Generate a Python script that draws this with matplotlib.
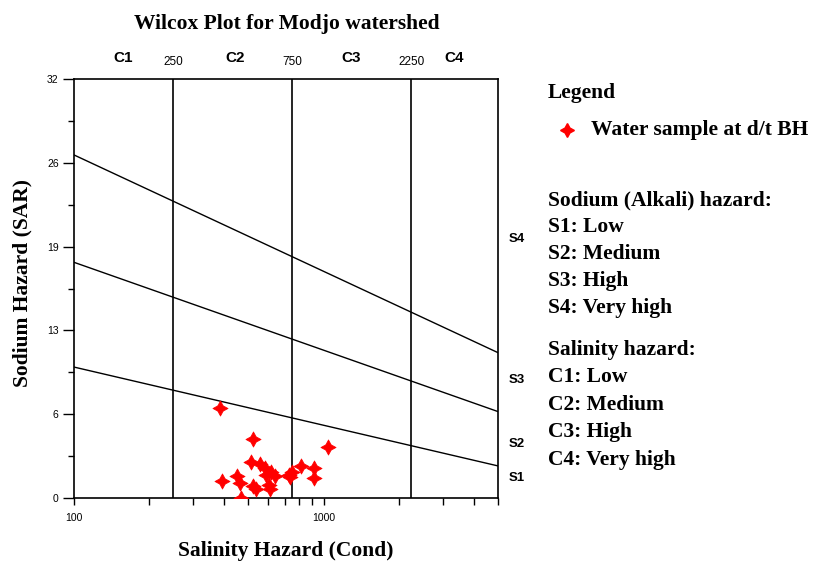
import matplotlib.pyplot as plt
from matplotlib.ticker import FixedLocator, NullFormatter

cond = [384, 521, 1040, 510, 555, 581, 618, 637, 727, 750, 814, 915, 915,
        392, 452, 461, 521, 538, 604, 608, 469, 590, 731]
sar = [6.85, 4.48, 3.87, 2.77, 2.60, 2.27, 1.96, 1.68, 1.76, 1.96, 2.44, 2.31, 1.55,
       1.30, 1.68, 1.12, 0.92, 0.66, 0.99, 0.66, 0.02, 1.76, 1.63]

# class boundaries
c_bounds = [250, 750, 2250]
c_names = ['C1', 'C2', 'C3', 'C4']
c_name_x = [158, 441, 1295, 3340]
s_lines = [(10.0, 2.45), (18.0, 6.6), (26.2, 11.1)]  # SAR at EC=100 and EC=5000
s_names = ['S1', 'S2', 'S3', 'S4']
s_name_y = [1.5, 4.1, 9.0, 19.8]

y_ticks = [0, 6.4, 12.8, 19.2, 25.6, 32]
y_labels = ['0', '6', '13', '19', '26', '32']

legend_lines = ['Sodium (Alkali) hazard:', 'S1: Low', 'S2: Medium', 'S3: High', 'S4: Very high']
legend_lines2 = ['Salinity hazard:', 'C1: Low', 'C2: Medium', 'C3: High', 'C4: Very high']

serif = 'Liberation Serif'
sans = 'Liberation Sans'
big = 15.5

fig = plt.figure(figsize=(8.14, 5.63), dpi=100)
ax = fig.add_axes([74/814, 1-498/563, 424/814, 419/563])
ax.set_xscale('log')
ax.set_xlim(100, 5000)
ax.set_ylim(0, 32)

for c in c_bounds:
    ax.plot([c, c], [0, 32], color='black', lw=1.2)
for s0, s1 in s_lines:
    ax.plot([100, 5000], [s0, s1], color='black', lw=1.0)

ax.scatter(cond, sar, marker=(4, 1, 0), s=120, color='red', zorder=5, linewidths=0.5, edgecolors='red')

ax.yaxis.set_major_locator(FixedLocator(y_ticks))
ax.set_yticklabels(y_labels, fontfamily=sans, fontsize=7.5)
ax.yaxis.set_minor_locator(FixedLocator([3.2, 9.6, 16, 22.4, 28.8]))
ax.xaxis.set_major_locator(FixedLocator([100, 1000]))
ax.set_xticklabels(['100', '1000'], fontfamily=sans, fontsize=7.5)
ax.xaxis.set_minor_locator(FixedLocator([200, 300, 400, 500, 600, 700, 800, 900,
                                         2000, 3000, 4000, 5000]))
ax.xaxis.set_minor_formatter(NullFormatter())
ax.tick_params(axis='y', which='major', length=8, width=1, pad=3)
ax.tick_params(axis='y', which='minor', length=4, width=1)
ax.tick_params(axis='x', which='both', length=5, width=1, pad=6)
for sp in ax.spines.values():
    sp.set_linewidth(1.2)

fig.text(287/814, 1-24/563, 'Wilcox Plot for Modjo watershed', fontfamily=serif, fontweight='bold',
         fontsize=big, ha='center', va='center')
fig.text(286/814, 1-551/563, 'Salinity Hazard (Cond)', fontfamily=serif, fontweight='bold',
         fontsize=big, ha='center', va='center')
fig.text(22/814, 1-283/563, 'Sodium Hazard (SAR)', fontfamily=serif, fontweight='bold',
         fontsize=big, ha='center', va='center', rotation=90)

for name, x in zip(c_names, c_name_x):
    ax.text(x, 1.0513, name, transform=ax.get_xaxis_transform(), ha='center', va='center',
            fontfamily=sans, fontweight='bold', fontsize=11)
for c in c_bounds:
    ax.text(c, 1.0394, str(c), transform=ax.get_xaxis_transform(), ha='center', va='center',
            fontfamily=sans, fontsize=8.5)
for name, y in zip(s_names, s_name_y):
    ax.text(1.025, y / 32, name, transform=ax.transAxes, ha='left', va='center',
            fontfamily=sans, fontweight='bold', fontsize=9.5)

# legend panel
fig.text(548/814, 1-93/563, 'Legend', fontfamily=serif, fontweight='bold', fontsize=big, va='center')
fig.lines.append(plt.Line2D([567/814], [1-130/563], marker=(4, 1, 0), color='red', markersize=10,
                            transform=fig.transFigure))
fig.text(591/814, 1-130/563, 'Water sample at d/t BH', fontfamily=serif, fontweight='bold',
         fontsize=big, va='center')
for i, t in enumerate(legend_lines):
    fig.text(548/814, 1-(200 + 27*i)/563, t, fontfamily=serif, fontweight='bold', fontsize=big, va='center')
for i, t in enumerate(legend_lines2):
    fig.text(548/814, 1-(350 + 27.5*i)/563, t, fontfamily=serif, fontweight='bold', fontsize=big, va='center')

fig.savefig('out.png', dpi=100)
